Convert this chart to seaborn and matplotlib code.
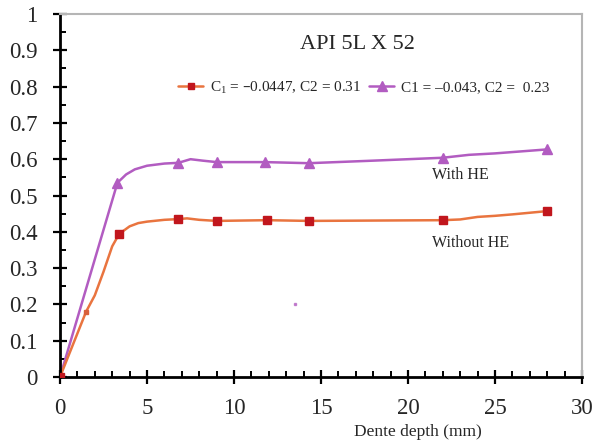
import matplotlib
matplotlib.use("Agg")
import matplotlib.pyplot as plt
import seaborn as sns
import pandas as pd
from matplotlib.lines import Line2D
from matplotlib.ticker import MultipleLocator

# ---- data ----
red_curve_x = [0, 1.5, 2.0, 2.5, 3.0, 3.4, 4.0, 4.5, 5.0, 6.0, 6.8, 7.3, 8.0, 9.0, 11.9, 14.3, 22.0, 23.0, 24.0, 25.0, 26.0, 28.0]
red_curve_y = [0, 0.18, 0.225, 0.29, 0.36, 0.394, 0.415, 0.424, 0.428, 0.433, 0.435, 0.437, 0.433, 0.430, 0.432, 0.430, 0.432, 0.434, 0.441, 0.444, 0.448, 0.457]
red_mark_x = [0, 3.4, 6.8, 9.0, 11.9, 14.3, 22.0, 28.0]
red_mark_y = [0, 0.394, 0.435, 0.430, 0.432, 0.430, 0.432, 0.457]
red_small_x = [1.5]
red_small_y = [0.18]

pur_curve_x = [0, 3.3, 3.8, 4.3, 5.0, 6.0, 6.8, 7.5, 8.2, 9.0, 11.8, 14.3, 18.0, 22.0, 23.5, 25.0, 28.0]
pur_curve_y = [0, 0.535, 0.558, 0.572, 0.582, 0.588, 0.590, 0.600, 0.596, 0.592, 0.592, 0.589, 0.596, 0.604, 0.612, 0.616, 0.627]
pur_mark_x = [3.3, 6.8, 9.0, 11.8, 14.3, 22.0, 28.0]
pur_mark_y = [0.535, 0.590, 0.592, 0.592, 0.589, 0.604, 0.627]
stray_x = [13.5]
stray_y = [0.20]

labels = ["C$_1$ = \u20130.0447, C2 = 0.31", "C1 = \u20130.043, C2 =  0.23"]
title = "API 5L X 52"
xlabel = "Dente depth (mm)"
annot = ["With HE", "Without HE"]

RED_LINE = "#e9743f"
RED_MARK = "#c1161d"
PURPLE = "#b25cc1"

sns.set_style("white")
plt.rcParams["font.family"] = ["Liberation Serif", "DejaVu Serif"]
plt.rcParams["mathtext.default"] = "regular"

fig = plt.figure(figsize=(5.92, 4.46), dpi=100)
ax = fig.add_axes([60/592, (446-377)/446, 522/592, 363/446])

sns.lineplot(x=pur_curve_x, y=pur_curve_y, ax=ax, color=PURPLE, lw=1.8, sort=False, estimator=None)
sns.lineplot(x=red_curve_x, y=red_curve_y, ax=ax, color=RED_LINE, lw=1.8, sort=False, estimator=None)
ax.plot(pur_mark_x, pur_mark_y, ls="none", marker="^", ms=7.5, color=PURPLE, zorder=4)
ax.plot(red_mark_x, red_mark_y, ls="none", marker="s", ms=6, color=RED_MARK, zorder=4)
ax.plot(red_small_x, red_small_y, ls="none", marker="s", ms=3.5, color="#d9603a", zorder=4)
ax.plot(stray_x, stray_y, ls="none", marker="s", ms=1.5, color=PURPLE, alpha=0.7)

ax.set_xlim(0, 30)
ax.set_ylim(0, 1)
ax.xaxis.set_major_locator(MultipleLocator(5))
ax.xaxis.set_minor_locator(MultipleLocator(1))
ax.yaxis.set_minor_locator(MultipleLocator(0.05))
ax.set_yticks([i/10 for i in range(11)])
ax.set_yticklabels(["0"] + [f"{i/10:.1f}" for i in range(1, 10)] + ["1"])

ax.tick_params(which="major", direction="inout", length=10, width=1.6, color="black",
               labelsize=16.5)
ax.tick_params(axis="y", which="major", pad=11)
ax.tick_params(axis="x", which="major", pad=10)
ax.tick_params(which="minor", direction="in", length=4, width=1.4, color="black")
ax.tick_params(axis="both", which="both", bottom=True, left=True, top=False, right=False)

for s in ["left", "bottom"]:
    ax.spines[s].set_color("black")
    ax.spines[s].set_linewidth(2)
for s in ["top", "right"]:
    ax.spines[s].set_color("#b5b5b5")
    ax.spines[s].set_linewidth(1.5)

ax.text(0.57, 0.915, title, transform=ax.transAxes, ha="center", va="center", fontsize=16)
ax.text(21.4, 0.556, annot[0], ha="left", va="center", fontsize=11.5)
ax.text(21.4, 0.369, annot[1], ha="left", va="center", fontsize=11.5)

handles = [
    Line2D([], [], color=RED_LINE, lw=1.8, marker="s", ms=5, mfc=RED_MARK, mec=RED_MARK),
    Line2D([], [], color=PURPLE, lw=1.8, marker="^", ms=6.5),
]
ax.legend(handles, labels, loc="center left", bbox_to_anchor=(0.215, 0.797), ncol=2,
          frameon=False, fontsize=11, handlelength=1.6, handletextpad=0.5,
          columnspacing=0.5, borderaxespad=0)

fig.text(418/592, 1 - 432/446, xlabel, ha="center", va="center", fontsize=12.5)

fig.savefig("out.png", dpi=100)
